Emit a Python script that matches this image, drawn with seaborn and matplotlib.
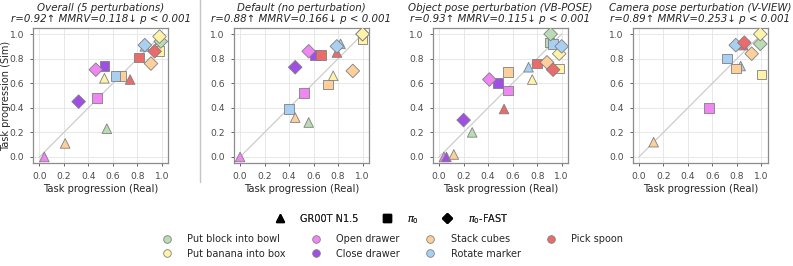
"""
Sim vs real task progression, four panels (overall + 3 perturbation types).
"""

import matplotlib
matplotlib.use("Agg")
import matplotlib.pyplot as plt
from matplotlib.lines import Line2D
import numpy as np
import pandas as pd
import seaborn as sns

nan = np.nan

TASKS = ["Put block into bowl", "Put banana into box", "Open drawer", "Close drawer",
         "Stack cubes", "Rotate marker", "Pick spoon"]
TASK_COLORS = ["#b9dcb4", "#fff3a9", "#ef86f2", "#a04fe4", "#fdd09b", "#a9cff2", "#e96b6b"]

MODELS = ["GR00T N1.5", r"$\pi_0$", r"$\pi_0$-FAST"]
MODEL_MARKERS = ["^", "s", "D"]

PANEL_TITLES = [
    "Overall (5 perturbations)\nr=0.92\u2191 MMRV=0.118\u2193 p < 0.001",
    "Default (no perturbation)\nr=0.88\u2191 MMRV=0.166\u2193 p < 0.001",
    "Object pose perturbation (VB-POSE)\nr=0.93\u2191 MMRV=0.115\u2193 p < 0.001",
    "Camera pose perturbation (V-VIEW)\nr=0.89\u2191 MMRV=0.253\u2193 p < 0.001",
]

# values per model (rows) and task (columns, same order as TASKS)
overall_real = [
    [0.55, 0.53, 0.04, nan, 0.21, 0.86, 0.74],
    [0.98, 0.98, 0.47, 0.53, 0.67, 0.62, 0.81],
    [0.99, 0.98, 0.46, 0.32, 0.91, 0.86, 0.94],
]
overall_sim = [
    [0.23, 0.64, 0.00, nan, 0.11, 0.90, 0.63],
    [0.96, 0.86, 0.48, 0.74, 0.66, 0.66, 0.81],
    [0.94, 0.98, 0.71, 0.45, 0.76, 0.91, 0.86],
]

default_real = [
    [0.56, 0.76, 0.00, nan, 0.45, 0.82, 0.79],
    [1.00, 1.00, 0.52, 0.61, 0.72, 0.40, 0.66],
    [1.00, 1.00, 0.56, 0.45, 0.92, 0.79, nan],
]
default_sim = [
    [0.28, 0.66, 0.00, nan, 0.32, 0.92, 0.85],
    [0.98, 0.96, 0.52, 0.83, 0.59, 0.39, 0.83],
    [1.00, 1.00, 0.86, 0.73, 0.70, 0.90, nan],
]

pose_real = [
    [0.27, 0.76, 0.04, 0.06, 0.12, 0.73, 0.53],
    [0.90, 0.98, 0.56, 0.48, 0.56, 0.93, 0.80],
    [0.91, 0.98, 0.41, 0.20, 0.88, 1.00, 0.93],
]
pose_sim = [
    [0.20, 0.63, 0.00, 0.00, 0.02, 0.73, 0.39],
    [0.93, 0.72, 0.54, 0.60, 0.69, 0.92, 0.76],
    [1.00, 0.84, 0.63, 0.30, 0.77, 0.90, 0.71],
]

view_real = [
    [nan, nan, nan, nan, 0.12, 0.83, 0.85],
    [nan, 1.00, 0.57, nan, 0.79, 0.72, nan],
    [0.99, 0.99, nan, nan, 0.92, 0.79, 0.86],
]
view_sim = [
    [nan, nan, nan, nan, 0.12, 0.74, 0.91],
    [nan, 0.67, 0.40, nan, 0.72, 0.80, nan],
    [0.92, 1.00, nan, nan, 0.84, 0.91, 0.93],
]

PANELS = [
    (overall_real, overall_sim),
    (default_real, default_sim),
    (pose_real, pose_sim),
    (view_real, view_sim),
]


def build_frame(real, sim):
    rows = []
    for m, model in enumerate(MODELS):
        for t, task in enumerate(TASKS):
            if np.isnan(real[m][t]):
                continue
            rows.append({"model": model, "task": task, "real": real[m][t], "sim": sim[m][t]})
    return pd.DataFrame(rows)


sns.set_theme(style="whitegrid")
plt.rcParams["font.family"] = ["DejaVu Sans"]

fig = plt.figure(figsize=(7.93, 2.66), dpi=100)

palette = dict(zip(TASKS, TASK_COLORS))
markers = dict(zip(MODELS, MODEL_MARKERS))

lefts = [0.042, 0.295, 0.546, 0.798]
for i, (real, sim) in enumerate(PANELS):
    ax = fig.add_axes([lefts[i], 0.387, 0.170, 0.508])
    df = build_frame(real, sim)
    ax.plot([0, 1], [0, 1], color="#c8c8c8", linewidth=0.8, zorder=1)
    sns.scatterplot(
        data=df, x="real", y="sim", hue="task", style="model",
        hue_order=TASKS, style_order=MODELS, palette=palette, markers=markers,
        s=48, edgecolor="#808080", linewidth=0.6, legend=False, ax=ax, zorder=3,
    )
    ax.set_xlim(-0.05, 1.05)
    ax.set_ylim(-0.05, 1.05)
    ax.set_xticks(np.arange(0, 1.01, 0.2))
    ax.set_yticks(np.arange(0, 1.01, 0.2))
    ax.tick_params(labelsize=6.6, colors="#4a4a4a", length=2.5, width=0.6, pad=4)
    ax.tick_params(axis="both", which="both", left=True, bottom=True)
    ax.grid(color="#e4e4e4", linewidth=0.6)
    for spine in ax.spines.values():
        spine.set_color("#8c8c8c")
        spine.set_linewidth(0.9)
    ax.set_xlabel("Task progression (Real)", fontsize=7.2, labelpad=2)
    if i == 0:
        ax.set_ylabel("Task progression (Sim)", fontsize=7.0, va="center")
        ax.yaxis.set_label_coords(-0.205, 0.5)
    else:
        ax.set_ylabel("")
    ax.set_title(PANEL_TITLES[i], fontsize=7.4, style="italic", pad=4, linespacing=1.15)

# separator after the overall panel
fig.add_artist(Line2D([0.252, 0.252], [0.315, 1.0], transform=fig.transFigure,
                      color="#c4c4c4", linewidth=1.0))

model_handles = [
    Line2D([], [], linestyle="", marker=mk, color="black", markersize=5.5 if mk != "D" else 5)
    for mk in MODEL_MARKERS
]
leg1 = fig.legend(model_handles, MODELS, loc="center", bbox_to_anchor=(0.494, 0.178),
                  ncol=3, frameon=False, fontsize=7, handletextpad=1.6, columnspacing=2.4,
                  handlelength=1.0)

task_handles = [
    Line2D([], [], linestyle="", marker="o", markerfacecolor=c, markeredgecolor="#808080",
           markeredgewidth=0.6, markersize=5.5)
    for c in TASK_COLORS
]
leg2 = fig.legend(task_handles, TASKS, loc="center", bbox_to_anchor=(0.495, 0.074),
                  ncol=4, frameon=False, fontsize=7, handletextpad=1.6, columnspacing=2.6,
                  handlelength=1.0, labelspacing=0.45)
fig.add_artist(leg1)

fig.savefig("out.png", dpi=100)
